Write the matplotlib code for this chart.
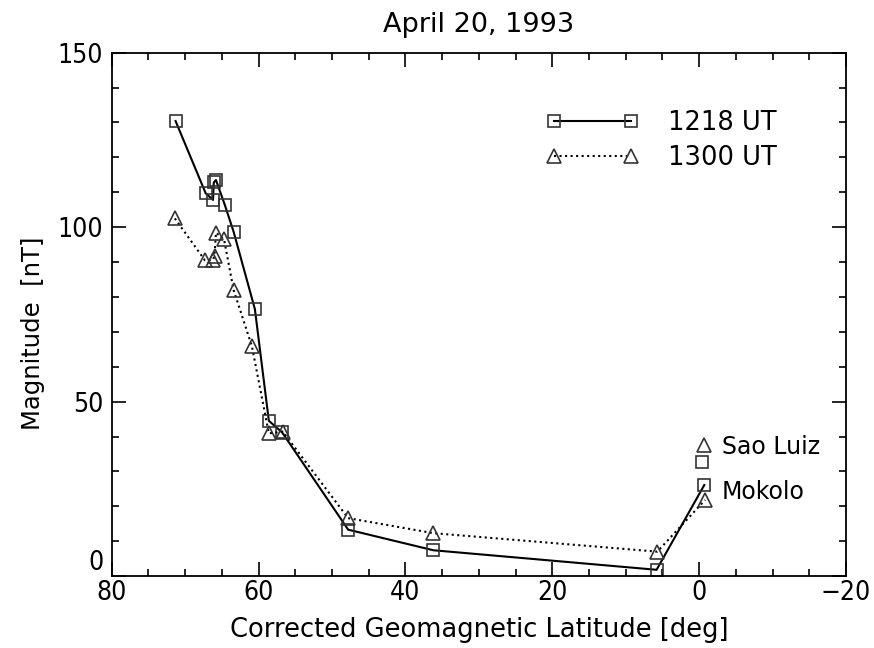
import numpy as np
import matplotlib
matplotlib.use("Agg")
import matplotlib.pyplot as plt
from matplotlib.ticker import MultipleLocator

# 1218 UT (squares, solid)
lat_1218 = [71.3, 67.2, 66.2, 66.1, 65.8, 64.6, 63.4, 60.5, 58.6, 56.8, 47.8, 36.2, 5.8, -0.7]
mag_1218 = [130.4, 109.7, 107.8, 112.8, 113.5, 106.4, 98.7, 76.5, 44.5, 41.2, 13.3, 7.4, 1.8, 26.1]

# 1300 UT (triangles, dotted)
lat_1300 = [71.4, 67.3, 66.2, 66.0, 65.8, 64.7, 63.4, 60.9, 58.6, 56.7, 47.8, 36.2, 5.7, -0.8]
mag_1300 = [102.5, 90.5, 90.6, 91.8, 98.4, 96.5, 82.0, 65.8, 40.9, 41.4, 16.6, 12.3, 7.0, 21.8]

# station markers (Sao Luiz)
sao_lat = [-0.7, -0.35]
sao_mag = [37.6, 32.8]

plt.rcParams['font.family'] = 'DejaVu Sans'
fig = plt.figure(figsize=(8.74, 6.48), dpi=100)
ax = fig.add_axes([0.1278, 0.111, 0.8402, 0.8077])

sq = dict(markersize=9, markerfacecolor='none', markeredgecolor='#333333', markeredgewidth=1.2)
tri = dict(markersize=10, markerfacecolor='none', markeredgecolor='#333333', markeredgewidth=1.2)
ax.plot(lat_1218, mag_1218, '-', color='black', lw=1.5, marker='s', label='1218 UT', **sq)
ax.plot(lat_1300, mag_1300, ':', color='black', lw=1.5, marker='^', label='1300 UT', **tri)

ax.plot(sao_lat[0], sao_mag[0], linestyle='none', marker='^', **tri)
ax.plot(sao_lat[1], sao_mag[1], linestyle='none', marker='s', **sq)
ax.text(-3.1, 37.0, 'Sao Luiz', fontsize=17, va='center', ha='left')
ax.text(-3.1, 24.1, 'Mokolo', fontsize=17, va='center', ha='left')

ax.set_xlim(80, -20)
ax.set_ylim(0, 150)
ax.xaxis.set_major_locator(MultipleLocator(20))
ax.xaxis.set_minor_locator(MultipleLocator(5))
ax.yaxis.set_major_locator(MultipleLocator(50))
ax.yaxis.set_minor_locator(MultipleLocator(10))
ax.tick_params(which='both', direction='in', top=True, right=True, width=1.2)
ax.tick_params(which='major', length=10)
ax.tick_params(axis='x', which='major', pad=3)
ax.tick_params(axis='y', which='major', pad=6)
ax.tick_params(which='minor', length=5)
for lbl in ax.get_xticklabels() + ax.get_yticklabels():
    lbl.set_fontsize(19)
    lbl.set_fontstretch('condensed')
for s in ax.spines.values():
    s.set_linewidth(1.3)

ax.set_xlabel('Corrected Geomagnetic Latitude [deg]', fontsize=18.5, labelpad=8)
ax.set_ylabel('Magnitude  [nT]', fontsize=17.5)
ax.yaxis.set_label_coords(-0.091, 0.464)
ax.set_title('April 20, 1993', fontsize=19.5, pad=15)

ax.legend(loc='upper left', bbox_to_anchor=(0.560, 0.935), frameon=False, numpoints=2,
          handlelength=3.6, handletextpad=1.15, labelspacing=0.35, fontsize=18.5)

# lift the "0" y label off the x axis labels, like the original
fig.canvas.draw()
for t in ax.yaxis.get_major_ticks():
    if abs(t.get_loc()) < 1e-9:
        t.label1.set_va('bottom')

fig.savefig('out.png', dpi=100)
